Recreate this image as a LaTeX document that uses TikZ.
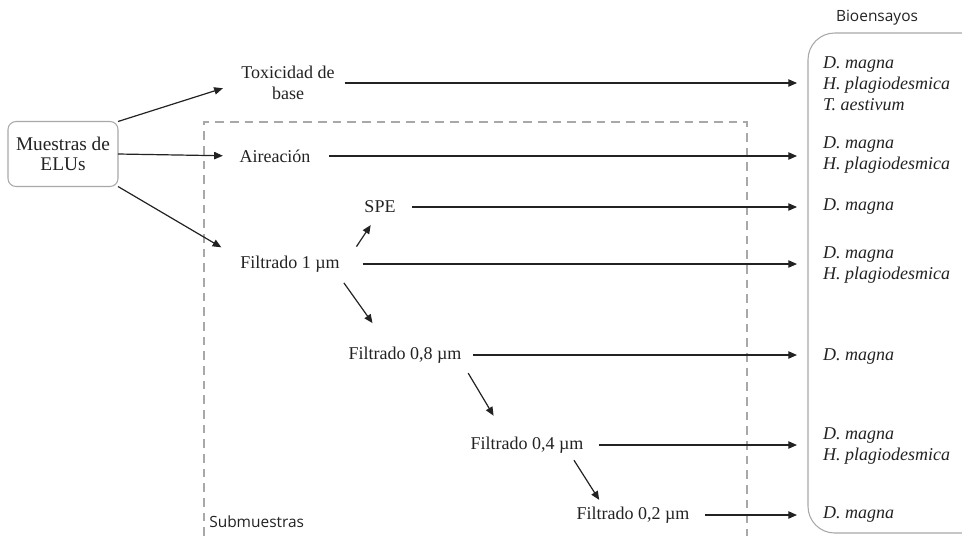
\documentclass[tikz,border=0pt]{standalone}
\usepackage{fontspec}
\setmainfont{Liberation Serif}
\newfontfamily\uisans{Open Sans}
\usetikzlibrary{arrows.meta}
\tikzset{>={Triangle[length=6.5pt,width=5.5pt]}}
\definecolor{ink}{HTML}{222222}
\definecolor{frame}{HTML}{A8A8A8}
\tikzset{
  txt/.style={inner sep=1.5pt,outer sep=0pt,text=ink,align=center,
    font=\fontsize{13.5}{15.5}\selectfont},
  spp/.style={txt,anchor=west,inner sep=0pt,align=left,
    font=\fontsize{13.5}{15.75}\selectfont\itshape},
  sample box/.style={txt,draw=frame,line width=0.8pt,rounded corners=6pt,
    minimum width=82.5pt,minimum height=48.75pt,
    font=\fontsize{14.5}{15.5}\selectfont},
  uilabel/.style={text=ink,inner sep=0pt,font=\uisans\fontsize{11.6}{13}\selectfont},
  flow/.style={->,ink,line width=0.9pt}
}

\begin{document}
\begin{tikzpicture}[x=0.75pt,y=-0.75pt]
  \useasboundingbox (0,0) rectangle (962,536);
  \draw[frame,line width=0.8pt,dash pattern=on 6.5pt off 4.5pt]
    (204,536) -- (204,122) -- (747,122) -- (747,536);
  \draw[frame,line width=0.8pt,rounded corners=20pt]
    (962,33) -- (808,33) -- (808,533) -- (962,533);

  \node[sample box] (mu) at (63,154) {Muestras de\\ELUs};
  \node[txt] (tox)  at (288,83)  {Toxicidad de\\base};
  \node[txt] (aire) at (275,156) {Aireación};
  \node[txt] (spe)  at (380,207) {SPE};
  \node[txt] (f1)   at (290,264) {Filtrado 1 µm};
  \node[txt] (f08)  at (405,355) {Filtrado 0,8 µm};
  \node[txt] (f04)  at (527,445) {Filtrado 0,4 µm};
  \node[txt] (f02)  at (633,515) {Filtrado 0,2 µm};

  \node[spp] (b1) at (823,84)  {D. magna\\H. plagiodesmica\\T. aestivum};
  \node[spp] (b2) at (823,155) {D. magna\\H. plagiodesmica};
  \node[spp] (b3) at (823,207) {D. magna};
  \node[spp] (b4) at (823,265) {D. magna\\H. plagiodesmica};
  \node[spp] (b5) at (823,357) {D. magna};
  \node[spp] (b6) at (823,446) {D. magna\\H. plagiodesmica};
  \node[spp] (b7) at (823,515) {D. magna};

  \node[uilabel] (bio) at (877,18) {Bioensayos};
  \node[uilabel,anchor=west] (sub) at (209,522) {Submuestras};
  \coordinate (tip) at (797,0);

  \draw[flow,shorten >=13pt] (mu.north east) -- (tox.west);
  \draw[flow,shorten >=11pt] (mu.east) -- (aire.west);
  \draw[flow,shorten >=14.8pt] (mu.south east) -- ([yshift=5pt]f1.west);
  \draw[flow,shorten <=6.5pt,shorten >=9pt] ([xshift=7.5pt]f1.north east) -- ([xshift=-2pt]spe.south);
  \draw[flow,shorten <=8pt,shorten >=20pt] ([xshift=-3pt]f1.south east) -- ([xshift=-12.75pt]f08.north);
  \draw[flow,shorten <=7pt,shorten >=16.7pt] (f08.south east) -- ([xshift=-16.5pt]f04.north);
  \draw[flow,shorten <=4.5pt,shorten >=4.4pt] ([xshift=-11pt]f04.south east) -- ([xshift=-23pt]f02.north);

  \draw[flow,shorten <=6pt]     (tox.east)  -- (tox.east -| tip);
  \draw[flow,shorten <=12.75pt] (aire.east) -- (aire.east -| tip);
  \draw[flow,shorten <=10.5pt]  (spe.east)  -- (spe.east -| tip);
  \draw[flow,shorten <=15.75pt] (f1.east)   -- (f1.east -| tip);
  \draw[flow,shorten <=7pt]     (f08.east)  -- (f08.east -| tip);
  \draw[flow,shorten <=10pt]    (f04.east)  -- (f04.east -| tip);
  \draw[flow,shorten <=10pt]    (f02.east)  -- (f02.east -| tip);
\end{tikzpicture}
\end{document}
